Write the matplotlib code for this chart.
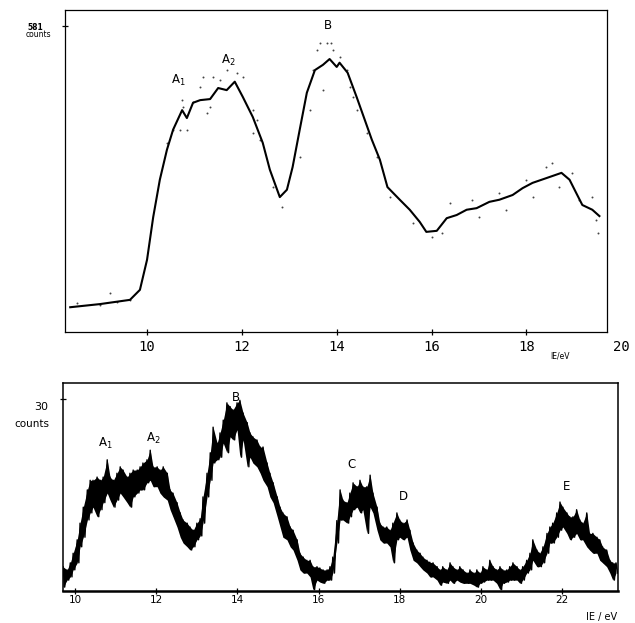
import matplotlib
matplotlib.use("Agg")
import matplotlib.pyplot as plt
import matplotlib.transforms as mtrans
import numpy as np

plt.rcParams['mathtext.fontset'] = 'dejavusans'

# upper spectrum: smoothed curve (IE in eV, counts)
top_e = [8.38, 9.01, 9.64, 9.85, 10.0, 10.13, 10.27, 10.42, 10.55, 10.74, 10.84, 10.97,
         11.12, 11.33, 11.5, 11.68, 11.85, 12.02, 12.23, 12.44, 12.59, 12.8, 12.95, 13.07,
         13.22, 13.37, 13.54, 13.71, 13.85, 14.0, 14.06, 14.23, 14.42, 14.59, 14.74, 14.91,
         15.07, 15.33, 15.54, 15.75, 15.89, 16.11, 16.32, 16.53, 16.74, 16.95, 17.22, 17.43,
         17.71, 17.92, 18.13, 18.42, 18.74, 18.91, 19.05, 19.18, 19.39, 19.54]
top_c = [47, 53, 61, 80, 137, 218, 289, 346, 384, 421, 406, 435,
         440, 442, 463, 459, 475, 446, 408, 359, 308, 256, 270, 313,
         384, 454, 497, 507, 518, 503, 511, 492, 446, 403, 365, 327,
         275, 251, 232, 209, 190, 192, 216, 222, 232, 235, 247, 251,
         260, 273, 283, 292, 302, 289, 264, 241, 232, 220]

# upper spectrum: raw points scattered around the curve
dot_e = [10.73, 10.76, 11.33, 11.26, 11.39, 11.54, 11.68, 11.89, 12.02, 11.12,
         10.97, 10.84, 12.23, 12.32, 12.38, 10.42, 10.55, 13.58, 13.79, 13.92,
         14.06, 14.21, 13.5, 13.43, 13.71, 14.34, 14.42, 13.64, 13.89, 14.27,
         14.63, 14.84, 15.12, 15.6, 16.02, 16.23, 16.38, 16.86, 17.01, 17.43,
         17.58, 18.0, 18.13, 18.42, 18.55, 18.69, 18.97, 19.12, 19.39, 19.47,
         19.5, 8.53, 9.01, 9.37, 9.64, 9.22, 10.69, 11.18, 12.23, 12.84,
         12.65, 13.22]
dot_c = [440, 427, 427, 416, 484, 478, 497, 492, 484, 465,
         437, 384, 421, 403, 365, 359, 384, 535, 549, 535,
         522, 497, 497, 421, 459, 446, 421, 549, 549, 465,
         378, 332, 256, 207, 180, 188, 245, 251, 218, 264,
         232, 289, 256, 313, 321, 275, 302, 251, 256, 213,
         188, 55, 51, 57, 61, 74, 384, 484, 378, 237,
         275, 332]

# lower spectrum: noisy band, upper and lower edge per channel
bot_e = [9.70, 9.80, 9.88, 9.95, 10.05, 10.12, 10.20, 10.30, 10.37, 10.44,
         10.54, 10.62, 10.69, 10.79, 10.86, 10.94, 11.03, 11.11, 11.18, 11.28,
         11.35, 11.43, 11.53, 11.60, 11.67, 11.77, 11.85, 11.92, 12.02, 12.09,
         12.17, 12.27, 12.34, 12.41, 12.51, 12.59, 12.66, 12.76, 12.83, 12.91,
         13.00, 13.08, 13.15, 13.25, 13.33, 13.40, 13.50, 13.57, 13.65, 13.74,
         13.82, 13.89, 13.99, 14.06, 14.14, 14.24, 14.31, 14.38, 14.48, 14.56,
         14.63, 14.73, 14.80, 14.88, 14.98, 15.05, 15.12, 15.22, 15.30, 15.37,
         15.47, 15.54, 15.62, 15.71, 15.79, 15.86, 15.96, 16.03, 16.11, 16.21,
         16.28, 16.35, 16.45, 16.53, 16.60, 16.70, 16.77, 16.85, 16.95, 17.02,
         17.09, 17.19, 17.27, 17.34, 17.44, 17.51, 17.59, 17.68, 17.76, 17.83,
         17.93, 18.00, 18.08, 18.18, 18.25, 18.33, 18.42, 18.50, 18.57, 18.67,
         18.74, 18.82, 18.92, 18.99, 19.06, 19.16, 19.24, 19.31, 19.41, 19.48,
         19.56, 19.66, 19.73, 19.83, 19.90, 19.98, 20.05, 20.15, 20.22, 20.30,
         20.39, 20.47, 20.54, 20.64, 20.71, 20.79, 20.89, 20.96, 21.03, 21.13,
         21.21, 21.28, 21.38, 21.45, 21.53, 21.63, 21.70, 21.77, 21.87, 21.95,
         22.02, 22.12, 22.19, 22.27, 22.36, 22.44, 22.51, 22.61, 22.68, 22.76,
         22.86, 22.93, 23.00, 23.10, 23.18, 23.25, 23.33]
bot_hi = [3.8, 3.3, 4.4, 5.9, 8.0, 10.6, 13.1, 15.8, 17.3, 17.3,
          17.8, 17.3, 17.8, 20.5, 17.8, 17.3, 18.4, 19.4, 18.9, 17.8,
          18.4, 18.9, 18.9, 19.4, 20.0, 20.5, 22.0, 19.4, 19.4, 18.9,
          19.4, 18.4, 15.8, 15.3, 13.8, 12.2, 11.1, 10.6, 10.0, 9.5,
          10.6, 11.3, 14.7, 18.4, 21.6, 25.6, 23.1, 24.7, 26.7, 29.4,
          28.8, 28.3, 29.4, 29.8, 27.8, 26.3, 24.7, 24.1, 23.6, 22.5,
          22.5, 20.0, 18.4, 16.9, 14.7, 13.1, 12.2, 11.6, 10.0, 9.5,
          8.0, 5.9, 5.3, 4.8, 4.8, 3.8, 3.8, 3.6, 3.3, 3.3,
          3.8, 5.3, 11.0, 15.8, 14.2, 13.8, 15.3, 16.9, 16.3, 17.3,
          16.3, 16.3, 18.1, 15.3, 13.1, 10.6, 10.0, 10.0, 9.5, 10.6,
          12.2, 11.1, 10.6, 11.1, 9.5, 7.5, 6.4, 5.9, 5.3, 4.8,
          4.5, 4.4, 3.8, 3.3, 3.8, 3.3, 4.4, 3.8, 3.3, 3.8,
          3.3, 2.8, 3.3, 2.8, 3.3, 2.8, 3.8, 3.3, 4.8, 3.8,
          3.3, 3.8, 3.3, 3.3, 3.8, 4.4, 3.8, 3.3, 3.8, 4.8,
          5.9, 8.0, 6.4, 5.9, 6.9, 9.0, 10.0, 10.6, 12.2, 13.9,
          13.1, 12.2, 11.6, 11.6, 12.7, 11.1, 10.6, 12.2, 9.0, 9.0,
          8.4, 8.0, 6.9, 6.4, 4.8, 4.4, 4.4]
bot_lo = [0.6, 1.7, 2.2, 3.3, 4.4, 6.9, 8.4, 11.1, 12.2, 13.1,
          11.6, 12.7, 13.8, 15.3, 14.2, 13.1, 14.2, 15.3, 14.7, 13.8,
          13.1, 14.7, 15.3, 15.8, 15.8, 16.9, 17.3, 16.3, 16.3, 15.3,
          14.7, 14.2, 12.7, 11.6, 10.0, 8.4, 7.5, 6.9, 6.4, 6.9,
          8.0, 8.6, 10.6, 14.7, 17.3, 20.0, 20.5, 20.9, 23.1, 21.6,
          24.1, 23.6, 25.2, 20.9, 23.6, 19.4, 20.9, 20.0, 19.4, 18.4,
          17.3, 16.3, 14.7, 13.8, 11.6, 10.0, 8.4, 8.0, 6.9, 6.4,
          4.8, 3.3, 2.8, 2.8, 2.2, 0.2, 1.7, 1.4, 1.2, 1.7,
          1.7, 2.8, 7.5, 11.1, 11.1, 10.6, 11.6, 12.7, 13.1, 12.2,
          12.7, 9.0, 13.1, 12.2, 9.5, 8.0, 7.5, 7.5, 6.9, 4.4,
          8.0, 8.4, 8.0, 8.4, 6.4, 4.8, 4.4, 3.8, 3.3, 2.8,
          2.2, 2.2, 1.7, 0.9, 1.4, 1.2, 1.7, 1.2, 1.7, 1.4,
          1.2, 1.2, 1.2, 0.9, 0.6, 1.2, 1.4, 1.7, 1.7, 1.7,
          1.2, 0.2, 1.2, 1.4, 1.7, 1.7, 1.7, 1.2, 1.7, 2.8,
          3.3, 4.8, 3.8, 3.8, 4.4, 5.9, 7.5, 7.5, 8.4, 9.5,
          10.0, 9.0, 8.0, 8.4, 9.0, 8.0, 8.0, 6.9, 6.4, 5.9,
          5.9, 4.8, 4.4, 3.8, 2.8, 1.7, 2.8]

top_ticks = [10, 12, 14, 16, 18, 20]
bot_ticks = [10, 12, 14, 16, 18, 20, 22]

fig = plt.figure(figsize=(6.35, 6.23), dpi=100)

# ---------- upper panel ----------
ax1 = fig.add_axes([65/635, 1 - 332/623, 542/635, 322.5/623])
ax1.set_xlim(8.27, 19.7)
ax1.set_ylim(0, 612)
ax1.scatter(dot_e, dot_c, s=2, color='#444444', lw=0)
ax1.plot(top_e, top_c, color='black', lw=1.5)
for s in ax1.spines.values():
    s.set_linewidth(0.9)
ax1.set_xticks([t for t in top_ticks if t < 19.7])
ax1.set_xticklabels([])
ax1.set_yticks([581])
ax1.set_yticklabels([])
ax1.tick_params(direction='inout', length=5, width=0.9)
tr1 = mtrans.blended_transform_factory(ax1.transData, ax1.transAxes)
for t in top_ticks:
    ax1.text(t, -0.047, str(t), transform=tr1, ha='center', va='center',
             fontsize=10, family='DejaVu Sans Mono', clip_on=False)
fig.text(35/635, 1 - 27/623, '581', fontsize=5.5, fontweight='bold', ha='center', va='center')
fig.text(38/635, 1 - 34.5/623, 'counts', fontsize=5.5, ha='center', va='center')
fig.text(560/635, 1 - 356/623, 'IE/eV', fontsize=5.5, ha='center', va='center')
ax1.text(10.65, 478, r'A$_1$', fontsize=8.5, ha='center', va='center')
ax1.text(11.71, 516, r'A$_2$', fontsize=8.5, ha='center', va='center')
ax1.text(13.81, 581, 'B', fontsize=8.5, ha='center', va='center')

# ---------- lower panel ----------
ax2 = fig.add_axes([63/635, 32/623, 555/635, 208/623])
ax2.set_xlim(9.70, 23.38)
ax2.set_ylim(0, 32.5)
e = np.array(bot_e)
hi = np.array(bot_hi)
lo = np.array(bot_lo)
ax2.fill_between(e, lo, hi, color='black', lw=0)
zx = np.column_stack([e, e + 0.041]).ravel()
zy = np.column_stack([hi, lo]).ravel()
ax2.plot(zx, zy, color='black', lw=1.0)
for s in ax2.spines.values():
    s.set_linewidth(1.1)
ax2.spines['bottom'].set_linewidth(1.8)
ax2.set_xticks(bot_ticks)
ax2.set_xticklabels([])
ax2.set_yticks([30])
ax2.set_yticklabels([])
ax2.tick_params(direction='inout', length=5, width=0.9)
tr2 = mtrans.blended_transform_factory(ax2.transData, ax2.transAxes)
for t in bot_ticks:
    ax2.text(t, -0.045, str(t), transform=tr2, ha='center', va='center',
             fontsize=7.5, clip_on=False)
fig.text(48/635, 1 - 407/623, '30', fontsize=8, ha='right', va='center')
fig.text(49/635, 1 - 424/623, 'counts', fontsize=7.5, ha='right', va='center')
fig.text(602/635, 1 - 617/623, 'IE / eV', fontsize=7, ha='center', va='center')
ax2.text(10.74, 23.1, r'A$_1$', fontsize=8.5, ha='center', va='center')
ax2.text(11.92, 23.9, r'A$_2$', fontsize=8.5, ha='center', va='center')
ax2.text(13.97, 30.3, 'B', fontsize=8.5, ha='center', va='center')
ax2.text(16.80, 19.7, 'C', fontsize=8.5, ha='center', va='center')
ax2.text(18.10, 14.7, 'D', fontsize=8.5, ha='center', va='center')
ax2.text(22.12, 16.3, 'E', fontsize=8.5, ha='center', va='center')

fig.savefig('out.png', dpi=100)
